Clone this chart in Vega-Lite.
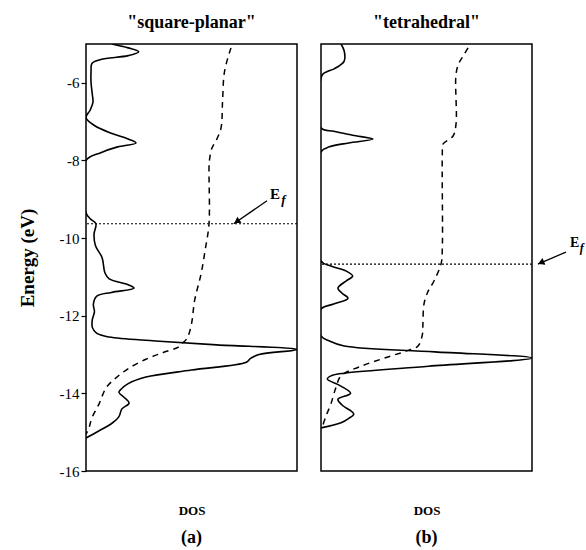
{
  "$schema": "https://vega.github.io/schema/vega-lite/v6.json",
  "padding": {"left": 17, "top": 13, "right": 2, "bottom": 5},
  "background": "white",
  "spacing": 20,
  "config": {
    "view": {"stroke": "#000", "strokeWidth": 1.5},
    "font": "Liberation Serif",
    "title": {"font": "Liberation Serif", "fontSize": 18, "fontWeight": "bold", "color": "#000", "offset": 12, "anchor": "middle", "frame": "group"},
    "axis": {"labelFont": "Liberation Serif", "titleFont": "Liberation Serif", "labelColor": "#000", "titleColor": "#000", "grid": false}
  },
  "datasets": {
    "a_dos": [
      {"E": -5.0, "dos": 0.123}, {"E": -5.1, "dos": 0.2}, {"E": -5.2, "dos": 0.25}, {"E": -5.3, "dos": 0.2},
      {"E": -5.4, "dos": 0.07}, {"E": -5.5, "dos": 0.028}, {"E": -5.7, "dos": 0.024}, {"E": -6.0, "dos": 0.024},
      {"E": -6.3, "dos": 0.03}, {"E": -6.5, "dos": 0.033}, {"E": -6.7, "dos": 0.02}, {"E": -6.9, "dos": 0.0},
      {"E": -7.1, "dos": 0.04}, {"E": -7.3, "dos": 0.12}, {"E": -7.45, "dos": 0.2}, {"E": -7.55, "dos": 0.237},
      {"E": -7.65, "dos": 0.15}, {"E": -7.8, "dos": 0.07}, {"E": -8.0, "dos": 0.0}, {"E": -9.35, "dos": 0.0},
      {"E": -9.5, "dos": 0.02}, {"E": -9.63, "dos": 0.047}, {"E": -9.9, "dos": 0.038}, {"E": -10.2, "dos": 0.045},
      {"E": -10.5, "dos": 0.076}, {"E": -10.9, "dos": 0.09}, {"E": -11.05, "dos": 0.11}, {"E": -11.2, "dos": 0.2},
      {"E": -11.29, "dos": 0.228}, {"E": -11.4, "dos": 0.12}, {"E": -11.5, "dos": 0.05}, {"E": -11.7, "dos": 0.035},
      {"E": -11.9, "dos": 0.04}, {"E": -12.1, "dos": 0.03}, {"E": -12.3, "dos": 0.03}, {"E": -12.45, "dos": 0.05},
      {"E": -12.55, "dos": 0.11}, {"E": -12.65, "dos": 0.33}, {"E": -12.75, "dos": 0.62}, {"E": -12.87, "dos": 1.0},
      {"E": -13.0, "dos": 0.82}, {"E": -13.1, "dos": 0.78}, {"E": -13.2, "dos": 0.76}, {"E": -13.4, "dos": 0.5},
      {"E": -13.58, "dos": 0.284}, {"E": -13.75, "dos": 0.2}, {"E": -13.9, "dos": 0.165}, {"E": -13.97, "dos": 0.156},
      {"E": -14.1, "dos": 0.18}, {"E": -14.25, "dos": 0.204}, {"E": -14.4, "dos": 0.17}, {"E": -14.6, "dos": 0.156},
      {"E": -14.77, "dos": 0.123}, {"E": -15.0, "dos": 0.05}, {"E": -15.15, "dos": 0.0}
    ],
    "a_int": [
      {"E": -5.1, "dos": 0.687}, {"E": -5.5, "dos": 0.665}, {"E": -5.8, "dos": 0.654}, {"E": -6.5, "dos": 0.647},
      {"E": -7.16, "dos": 0.64}, {"E": -7.45, "dos": 0.62}, {"E": -7.68, "dos": 0.597}, {"E": -8.0, "dos": 0.585},
      {"E": -8.19, "dos": 0.583}, {"E": -9.63, "dos": 0.583}, {"E": -10.3, "dos": 0.565}, {"E": -10.93, "dos": 0.545},
      {"E": -11.6, "dos": 0.515}, {"E": -12.21, "dos": 0.5}, {"E": -12.57, "dos": 0.48}, {"E": -12.72, "dos": 0.455},
      {"E": -12.8, "dos": 0.44}, {"E": -12.96, "dos": 0.36}, {"E": -13.12, "dos": 0.284}, {"E": -13.35, "dos": 0.204},
      {"E": -13.6, "dos": 0.142}, {"E": -13.86, "dos": 0.095}, {"E": -14.27, "dos": 0.062}, {"E": -14.63, "dos": 0.028},
      {"E": -14.89, "dos": 0.014}, {"E": -15.05, "dos": 0.0}
    ],
    "b_dos": [
      {"E": -5.0, "dos": 0.095}, {"E": -5.18, "dos": 0.11}, {"E": -5.44, "dos": 0.11}, {"E": -5.55, "dos": 0.09},
      {"E": -5.64, "dos": 0.062}, {"E": -5.77, "dos": 0.01}, {"E": -5.88, "dos": 0.0}, {"E": -7.16, "dos": 0.0},
      {"E": -7.25, "dos": 0.06}, {"E": -7.35, "dos": 0.15}, {"E": -7.45, "dos": 0.246}, {"E": -7.55, "dos": 0.13},
      {"E": -7.65, "dos": 0.04}, {"E": -7.78, "dos": 0.0}, {"E": -10.59, "dos": 0.0}, {"E": -10.72, "dos": 0.047},
      {"E": -10.85, "dos": 0.12}, {"E": -10.98, "dos": 0.15}, {"E": -11.1, "dos": 0.12}, {"E": -11.29, "dos": 0.08},
      {"E": -11.42, "dos": 0.1}, {"E": -11.55, "dos": 0.128}, {"E": -11.7, "dos": 0.06}, {"E": -11.83, "dos": 0.0},
      {"E": -12.52, "dos": 0.0}, {"E": -12.65, "dos": 0.04}, {"E": -12.78, "dos": 0.11}, {"E": -12.93, "dos": 0.54},
      {"E": -13.09, "dos": 1.0}, {"E": -13.3, "dos": 0.51}, {"E": -13.48, "dos": 0.11}, {"E": -13.55, "dos": 0.047},
      {"E": -13.63, "dos": 0.03}, {"E": -13.8, "dos": 0.09}, {"E": -14.0, "dos": 0.14}, {"E": -14.15, "dos": 0.08},
      {"E": -14.3, "dos": 0.1}, {"E": -14.53, "dos": 0.155}, {"E": -14.65, "dos": 0.13}, {"E": -14.76, "dos": 0.095},
      {"E": -14.89, "dos": 0.0}
    ],
    "b_int": [
      {"E": -5.1, "dos": 0.697}, {"E": -5.3, "dos": 0.675}, {"E": -5.49, "dos": 0.654}, {"E": -5.77, "dos": 0.64},
      {"E": -7.06, "dos": 0.64}, {"E": -7.37, "dos": 0.626}, {"E": -7.58, "dos": 0.578}, {"E": -7.8, "dos": 0.575},
      {"E": -10.26, "dos": 0.575}, {"E": -10.64, "dos": 0.57}, {"E": -11.1, "dos": 0.536}, {"E": -11.4, "dos": 0.505},
      {"E": -11.7, "dos": 0.488}, {"E": -12.21, "dos": 0.483}, {"E": -12.5, "dos": 0.48}, {"E": -12.78, "dos": 0.46},
      {"E": -12.9, "dos": 0.41}, {"E": -13.04, "dos": 0.33}, {"E": -13.3, "dos": 0.19}, {"E": -13.55, "dos": 0.095},
      {"E": -13.86, "dos": 0.07}, {"E": -14.27, "dos": 0.047}, {"E": -14.58, "dos": 0.024}, {"E": -14.8, "dos": 0.01}
    ],
    "a_fermi": [{"E": -9.63}],
    "b_fermi": [{"E": -10.67}],
    "a_arrow": [{"dos": 0.858, "E": -9.04, "dos2": 0.70, "E2": -9.63}],
    "b_arrow": [{"dos": 1.161, "E": -10.36, "dos2": 1.028, "E2": -10.67}],
    "a_head": [{"dos": 0.716, "E": -9.57}],
    "b_head": [{"dos": 1.044, "E": -10.63}],
    "a_E": [{"dos": 0.872, "E": -9.0, "label": "E"}],
    "a_f": [{"dos": 0.925, "E": -9.13, "label": "f"}],
    "b_E": [{"dos": 1.18, "E": -10.24, "label": "E"}],
    "b_f": [{"dos": 1.226, "E": -10.36, "label": "f"}],
    "a_cap": [{"dos": 0.5, "E": -17.85, "label": "(a)"}],
    "b_cap": [{"dos": 0.5, "E": -17.85, "label": "(b)"}]
  },
  "hconcat": [
    {
      "width": 211,
      "height": 427,
      "title": {"text": "\"square-planar\""},
      "encoding": {
        "x": {"field": "dos", "type": "quantitative", "scale": {"domain": [0, 1], "nice": false, "zero": false},
              "axis": {"title": "DOS", "titleFontSize": 13, "titleFontWeight": "bold", "titlePadding": 33, "labels": false, "ticks": false, "domain": false}},
        "y": {"field": "E", "type": "quantitative", "scale": {"domain": [-16, -5], "nice": false, "zero": false},
              "axis": {"values": [-16, -14, -12, -10, -8, -6], "title": "Energy (eV)", "titleFontSize": 19, "titleFontWeight": "bold", "titlePadding": 22,
                       "labelFontSize": 15, "labelExpr": "'' + datum.value", "tickSize": 5, "tickColor": "#000", "tickWidth": 1.2, "domain": false, "labelPadding": 2}}
      },
      "layer": [
        {"data": {"name": "a_fermi"}, "mark": {"type": "rule", "color": "#000", "strokeWidth": 1.2, "strokeDash": [2, 2]}, "encoding": {"x": null}},
        {"data": {"name": "a_dos"}, "mark": {"type": "line", "color": "#000", "strokeWidth": 1.6, "interpolate": "catmull-rom", "clip": true},
         "encoding": {"order": {"field": "E", "sort": "descending"}}},
        {"data": {"name": "a_int"}, "mark": {"type": "line", "color": "#000", "strokeWidth": 1.5, "strokeDash": [6, 5], "interpolate": "catmull-rom", "clip": true},
         "encoding": {"order": {"field": "E", "sort": "descending"}}},
        {"data": {"name": "a_arrow"}, "mark": {"type": "rule", "color": "#000", "strokeWidth": 1.3},
         "encoding": {"x2": {"field": "dos2"}, "y2": {"field": "E2"}}},
        {"data": {"name": "a_head"}, "mark": {"type": "point", "shape": "triangle-up", "filled": true, "fill": "#000", "stroke": "#000", "strokeWidth": 1, "size": 30, "opacity": 1, "angle": 235}},
        {"data": {"name": "a_E"}, "mark": {"type": "text", "font": "Liberation Serif", "fontSize": 15, "fontWeight": "bold", "align": "left", "baseline": "alphabetic", "color": "#000"},
         "encoding": {"text": {"field": "label"}}},
        {"data": {"name": "a_f"}, "mark": {"type": "text", "font": "Liberation Serif", "fontSize": 13, "fontWeight": "bold", "fontStyle": "italic", "align": "left", "baseline": "alphabetic", "color": "#000"},
         "encoding": {"text": {"field": "label"}}},
        {"data": {"name": "a_cap"}, "mark": {"type": "text", "font": "Liberation Serif", "fontSize": 18, "fontWeight": "bold", "align": "center", "baseline": "alphabetic", "color": "#000"},
         "encoding": {"text": {"field": "label"}}}
      ]
    },
    {
      "width": 211,
      "height": 427,
      "title": {"text": "\"tetrahedral\""},
      "encoding": {
        "x": {"field": "dos", "type": "quantitative", "scale": {"domain": [0, 1], "nice": false, "zero": false},
              "axis": {"title": "DOS", "titleFontSize": 13, "titleFontWeight": "bold", "titlePadding": 33, "labels": false, "ticks": false, "domain": false}},
        "y": {"field": "E", "type": "quantitative", "scale": {"domain": [-16, -5], "nice": false, "zero": false}, "axis": null}
      },
      "layer": [
        {"data": {"name": "b_fermi"}, "mark": {"type": "rule", "color": "#000", "strokeWidth": 1.2, "strokeDash": [2, 2]}, "encoding": {"x": null}},
        {"data": {"name": "b_dos"}, "mark": {"type": "line", "color": "#000", "strokeWidth": 1.6, "interpolate": "catmull-rom", "clip": true},
         "encoding": {"order": {"field": "E", "sort": "descending"}}},
        {"data": {"name": "b_int"}, "mark": {"type": "line", "color": "#000", "strokeWidth": 1.5, "strokeDash": [6, 5], "interpolate": "catmull-rom", "clip": true},
         "encoding": {"order": {"field": "E", "sort": "descending"}}},
        {"data": {"name": "b_arrow"}, "mark": {"type": "rule", "color": "#000", "strokeWidth": 1.3},
         "encoding": {"x2": {"field": "dos2"}, "y2": {"field": "E2"}}},
        {"data": {"name": "b_head"}, "mark": {"type": "point", "shape": "triangle-up", "filled": true, "fill": "#000", "stroke": "#000", "strokeWidth": 1, "size": 30, "opacity": 1, "angle": 247}},
        {"data": {"name": "b_E"}, "mark": {"type": "text", "font": "Liberation Serif", "fontSize": 14, "fontWeight": "bold", "align": "left", "baseline": "alphabetic", "color": "#000"},
         "encoding": {"text": {"field": "label"}}},
        {"data": {"name": "b_f"}, "mark": {"type": "text", "font": "Liberation Serif", "fontSize": 12, "fontWeight": "bold", "fontStyle": "italic", "align": "left", "baseline": "alphabetic", "color": "#000"},
         "encoding": {"text": {"field": "label"}}},
        {"data": {"name": "b_cap"}, "mark": {"type": "text", "font": "Liberation Serif", "fontSize": 18, "fontWeight": "bold", "align": "center", "baseline": "alphabetic", "color": "#000"},
         "encoding": {"text": {"field": "label"}}}
      ]
    }
  ]
}
